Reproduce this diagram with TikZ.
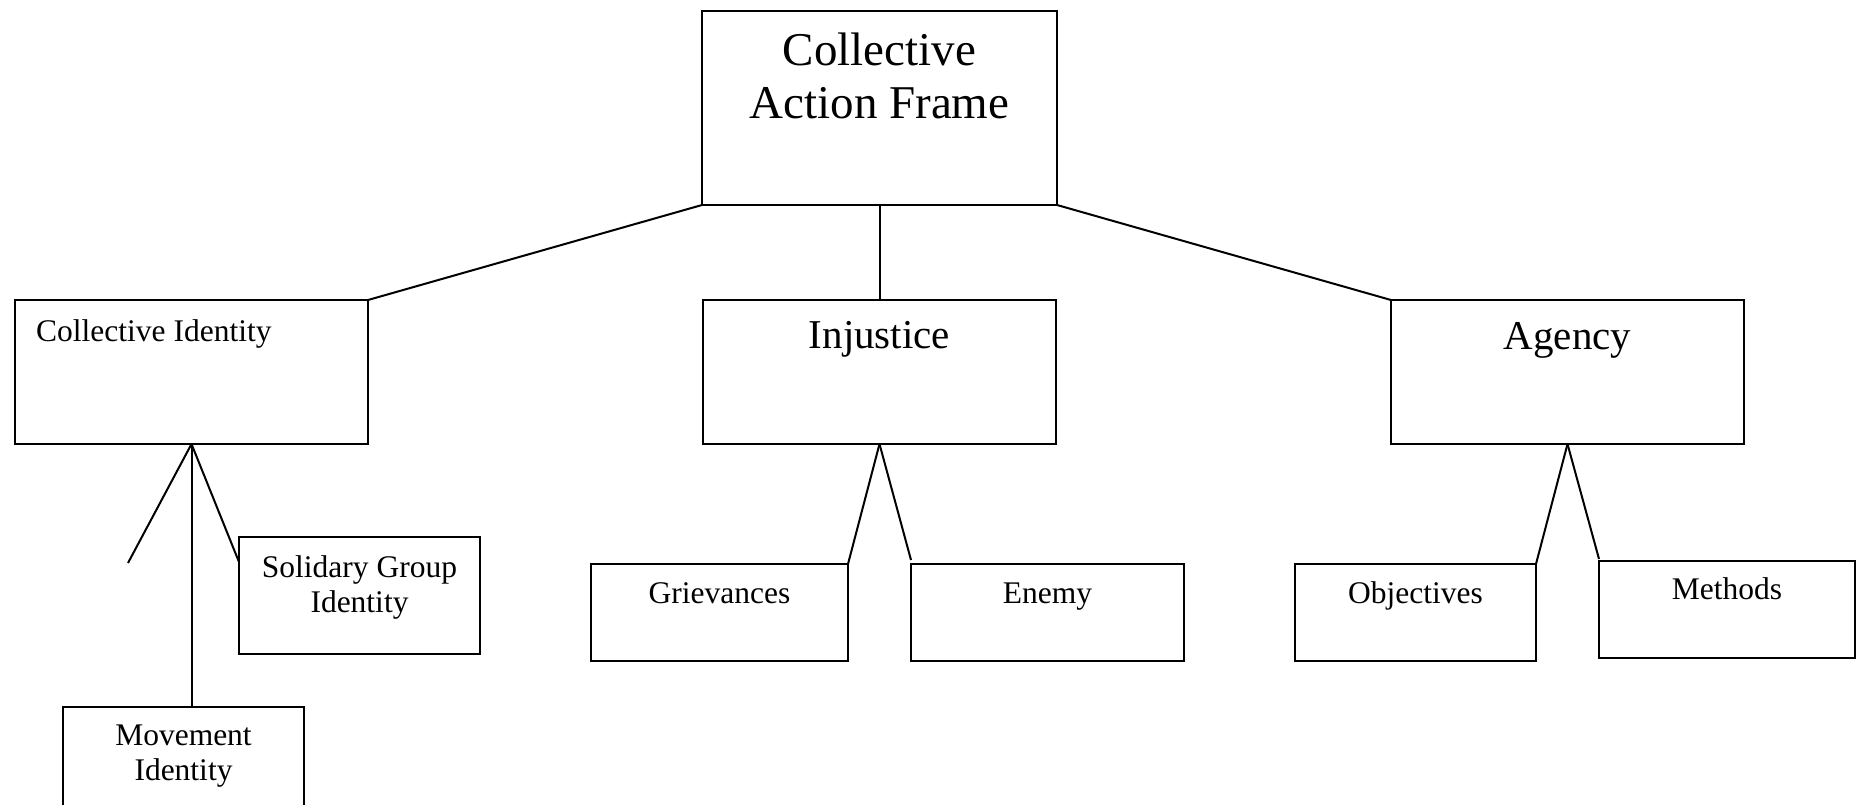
\documentclass[tikz,border=0pt]{standalone}
\usepackage{fontspec}
\setmainfont{Liberation Serif}
\usetikzlibrary{calc}
\begin{document}
\begin{tikzpicture}[x=1pt,y=-1pt,
  box/.style={draw=black,line width=2pt,rectangle,inner sep=0pt,outer sep=0pt,fill=white},
  link/.style={draw=black,line width=2pt},
  huge/.style={font=\fontsize{47}{53}\selectfont,inner sep=0pt,align=center,anchor=base},
  big/.style={font=\fontsize{41}{47}\selectfont,inner sep=0pt,anchor=base},
  small/.style={font=\fontsize{31.5}{35}\selectfont,inner sep=0pt,align=center,anchor=base}]
\useasboundingbox (0,0) rectangle (1856,804);
\clip (0,0) rectangle (1856,804);

% boxes: centre, width, height
\node[box,minimum width=355pt,minimum height=194pt] (caf) at (879.5,108) {};
\node[box,minimum width=353pt,minimum height=144pt] (ci) at (191.5,372) {};
\node[box,minimum width=353pt,minimum height=144pt] (inj) at (879.5,372) {};
\node[box,minimum width=353pt,minimum height=144pt] (agn) at (1567.5,372) {};
\node[box,minimum width=241pt,minimum height=117pt] (sol) at (359.5,595.5) {};
\node[box,minimum width=241pt,minimum height=140pt] (mov) at (183.5,777) {};
\node[box,minimum width=257pt,minimum height=97pt] (gri) at (719.5,612.5) {};
\node[box,minimum width=273pt,minimum height=97pt] (ene) at (1047.5,612.5) {};
\node[box,minimum width=241pt,minimum height=97pt] (obj) at (1415.5,612.5) {};
\node[box,minimum width=256pt,minimum height=97pt] (met) at (1727,609.5) {};

% labels (base of a multi-line label is its last line)
\node[huge] (caft) at (879.5,118) {Collective\\Action Frame};
\node[small,anchor=base west] (cit) at (36,341) {Collective Identity};
\node[big] (injt) at (879.5,348) {Injustice};
\node[big] (agnt) at (1567.5,349) {Agency};
\node[small] (solt) at (359.5,612) {Solidary Group\\Identity};
\node[small] (movt) at (183.5,780) {Movement\\Identity};
\node[small] (grit) at (719.5,603) {Grievances};
\node[small] (enet) at (1047.5,603) {Enemy};
\node[small] (objt) at (1415.5,603) {Objectives};
\node[small] (mett) at (1727,599) {Methods};

% connectors
\coordinate (loose) at (128,563);
\draw[link] (caf.south west) -- (ci.north east);
\draw[link] (caf.south) -- (inj.north);
\draw[link] (caf.south east) -- (agn.north west);
\draw[link] (ci.south) -- (loose);
\draw[link] (ci.south) -- ($(sol.north west)+(0,25)$);
\draw[link] (ci.south) -- (ci.south |- mov.north);
\draw[link] (inj.south) -- (gri.north east);
\draw[link] (inj.south) -- ($(ene.north west)+(0,-4)$);
\draw[link] (agn.south) -- (obj.north east);
\draw[link] (agn.south) -- ($(met.north west)+(0,-2)$);
\end{tikzpicture}
\end{document}
